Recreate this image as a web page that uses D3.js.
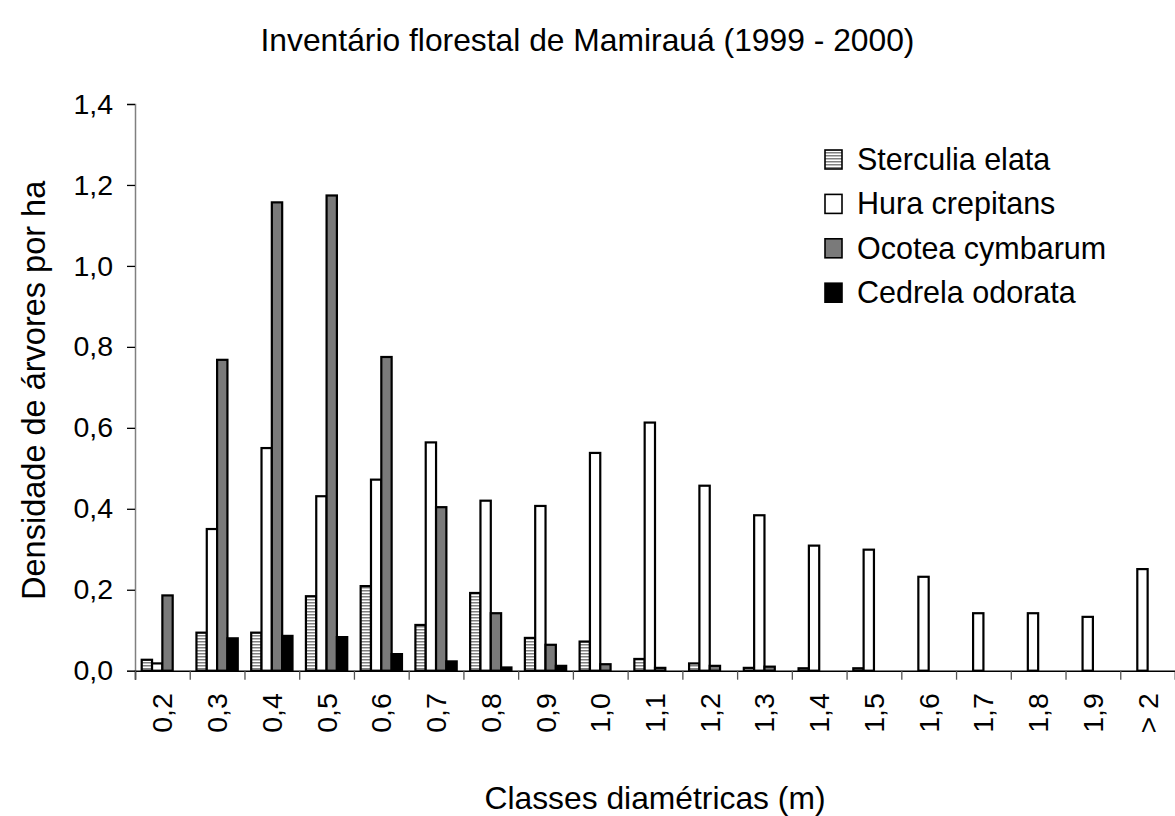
<!DOCTYPE html>
<html>
<head>
<meta charset="utf-8">
<script src="https://cdn.jsdelivr.net/npm/d3@7"></script>
<style>
    body { margin: 0; background: #fff; overflow: hidden; }
    text { font-family: "Liberation Sans", Arial, sans-serif; fill: #000; }
</style>
</head>
<body>
<div id="wrapper"></div>
<script>
// classes diametricas (m)
const categories = ["0,2", "0,3", "0,4", "0,5", "0,6", "0,7", "0,8", "0,9", "1,0", "1,1",
    "1,2", "1,3", "1,4", "1,5", "1,6", "1,7", "1,8", "1,9", "> 2"];

const seriesNames = ["Sterculia elata", "Hura crepitans", "Ocotea cymbarum", "Cedrela odorata"];

// densidade de arvores por ha
const sterculiaElata = [0.027, 0.094, 0.094, 0.184, 0.209, 0.113, 0.192, 0.081, 0.072, 0.029,
    0.018, 0.007, 0.006, 0.006, 0, 0, 0, 0, 0];
const huraCrepitans = [0.018, 0.350, 0.550, 0.431, 0.472, 0.564, 0.420, 0.407, 0.538, 0.613,
    0.457, 0.384, 0.309, 0.299, 0.232, 0.142, 0.142, 0.133, 0.251];
const ocoteaCymbarum = [0.186, 0.768, 1.157, 1.174, 0.775, 0.404, 0.142, 0.064, 0.016, 0.007,
    0.012, 0.010, 0, 0, 0, 0, 0, 0, 0];
const cedrelaOdorata = [0, 0.080, 0.086, 0.083, 0.041, 0.023, 0.008, 0.012, 0, 0,
    0, 0, 0, 0, 0, 0, 0, 0, 0];

const yTicks = [0, 0.2, 0.4, 0.6, 0.8, 1.0, 1.2, 1.4];

function buildPlot() {
    const seriesValues = [sterculiaElata, huraCrepitans, ocoteaCymbarum, cedrelaOdorata];
    const fills = ["url(#stripes)", "#ffffff", "#7a7a7a", "#000000"];

    const data = categories.map((c, i) => ({
        category: c,
        values: seriesNames.map((s, j) => ({ key: s, value: seriesValues[j][i] }))
    }));

    var dimension = {
        width: 1175,
        height: 816,
        margin: {
            top: 104,
            left: 135,
            bottom: 145.3,
            right: 0
        }
    };
    dimension.boundedWidth = dimension.width - dimension.margin.left - dimension.margin.right;
    dimension.boundedHeight = dimension.height - dimension.margin.top - dimension.margin.bottom;

    const wrapper = d3.select("#wrapper");
    const svg = wrapper.append("svg")
        .attr("width", dimension.width)
        .attr("height", dimension.height);

    // listras horizontais da Sterculia
    const pattern = svg.append("defs").append("pattern")
        .attr("id", "stripes")
        .attr("patternUnits", "userSpaceOnUse")
        .attr("width", 4)
        .attr("height", 3);
    pattern.append("rect").attr("width", 4).attr("height", 3).attr("fill", "#ffffff");
    pattern.append("rect").attr("width", 4).attr("height", 1.5).attr("fill", "#808080");

    const bounded = svg.append("g")
        .attr("transform", `translate(${dimension.margin.left},${dimension.margin.top})`);

    const x0 = d3.scaleBand()
        .domain(categories)
        .range([0, dimension.boundedWidth])
        .padding(0);
    const x1 = d3.scaleBand()
        .domain(seriesNames)
        .range([0, x0.bandwidth()])
        .paddingInner(0)
        .paddingOuter(0.65);
    const yScale = d3.scaleLinear()
        .domain([0, 1.4])
        .range([dimension.boundedHeight, 0]);
    const color = d3.scaleOrdinal().domain(seriesNames).range(fills);

    // barras
    bounded.append("g")
        .selectAll("g")
        .data(data)
        .join("g")
        .attr("transform", d => `translate(${x0(d.category)},0)`)
        .selectAll("rect")
        .data(d => d.values.filter(v => v.value > 0))
        .join("rect")
        .attr("x", d => x1(d.key))
        .attr("y", d => yScale(d.value))
        .attr("width", x1.bandwidth())
        .attr("height", d => dimension.boundedHeight - yScale(d.value))
        .attr("fill", d => color(d.key))
        .attr("stroke", "#000")
        .attr("stroke-width", 2.2);

    // eixo y
    const yAxisGenerator = d3.axisLeft(yScale)
        .tickValues(yTicks)
        .tickSize(8)
        .tickPadding(14)
        .tickFormat(d => d3.format(".1f")(d).replace(".", ","));
    const yAxis = bounded.append("g").call(yAxisGenerator);
    yAxis.select(".domain").attr("stroke", "#808080").attr("stroke-width", 1.5);
    yAxis.selectAll(".tick line").attr("stroke", "#000").attr("stroke-width", 1.3);
    yAxis.selectAll("text")
        .style("font-size", "28.5px")
        .style("font-family", "'Liberation Sans', Arial, sans-serif")
        .attr("fill", "#000");

    // marcas do eixo x nas bordas das classes
    const xEdges = d3.scaleLinear().domain([0, categories.length]).range([0, dimension.boundedWidth]);
    const xTickAxis = bounded.append("g")
        .attr("transform", `translate(0,${dimension.boundedHeight})`)
        .call(d3.axisBottom(xEdges).tickValues(d3.range(categories.length + 1)).tickSize(9).tickFormat(""));
    xTickAxis.select(".domain").attr("stroke", "#000").attr("stroke-width", 1.5);
    xTickAxis.selectAll(".tick line").attr("stroke", "#555").attr("stroke-width", 1.3);

    // rotulos das classes
    const xAxis = bounded.append("g")
        .attr("transform", `translate(0,${dimension.boundedHeight})`)
        .call(d3.axisBottom(x0).tickSize(0));
    xAxis.select(".domain").remove();
    xAxis.selectAll("text")
        .attr("transform", "rotate(-90)")
        .attr("x", -22.5)
        .attr("y", 0)
        .attr("dy", "0.35em")
        .style("text-anchor", "end")
        .style("font-size", "28.5px")
        .style("font-family", "'Liberation Sans', Arial, sans-serif")
        .attr("fill", "#000");

    // titulos
    svg.append("text")
        .attr("x", dimension.width / 2)
        .attr("y", 51)
        .attr("text-anchor", "middle")
        .style("font-size", "31.8px")
        .text("Inventário florestal de Mamirauá (1999 - 2000)");

    svg.append("text")
        .attr("x", dimension.margin.left + dimension.boundedWidth / 2)
        .attr("y", 809)
        .attr("text-anchor", "middle")
        .style("font-size", "31.8px")
        .text("Classes diamétricas (m)");

    svg.append("text")
        .attr("transform", `translate(45,${dimension.margin.top + dimension.boundedHeight / 2 + 3}) rotate(-90)`)
        .attr("text-anchor", "middle")
        .style("font-size", "32.5px")
        .text("Densidade de árvores por ha");

    // legenda
    const legend = svg.append("g")
        .attr("transform", "translate(825,170)");
    const legendItem = legend.selectAll("g")
        .data(seriesNames)
        .join("g")
        .attr("transform", (d, i) => `translate(0,${i * 44.4})`);
    legendItem.append("rect")
        .attr("x", 0)
        .attr("y", -20)
        .attr("width", 17)
        .attr("height", 19)
        .attr("fill", d => color(d))
        .attr("stroke", "#000")
        .attr("stroke-width", 1.6);
    legendItem.append("text")
        .attr("x", 32)
        .attr("y", 0)
        .style("font-size", "30.5px")
        .text(d => d);
}

buildPlot();
</script>
</body>
</html>
